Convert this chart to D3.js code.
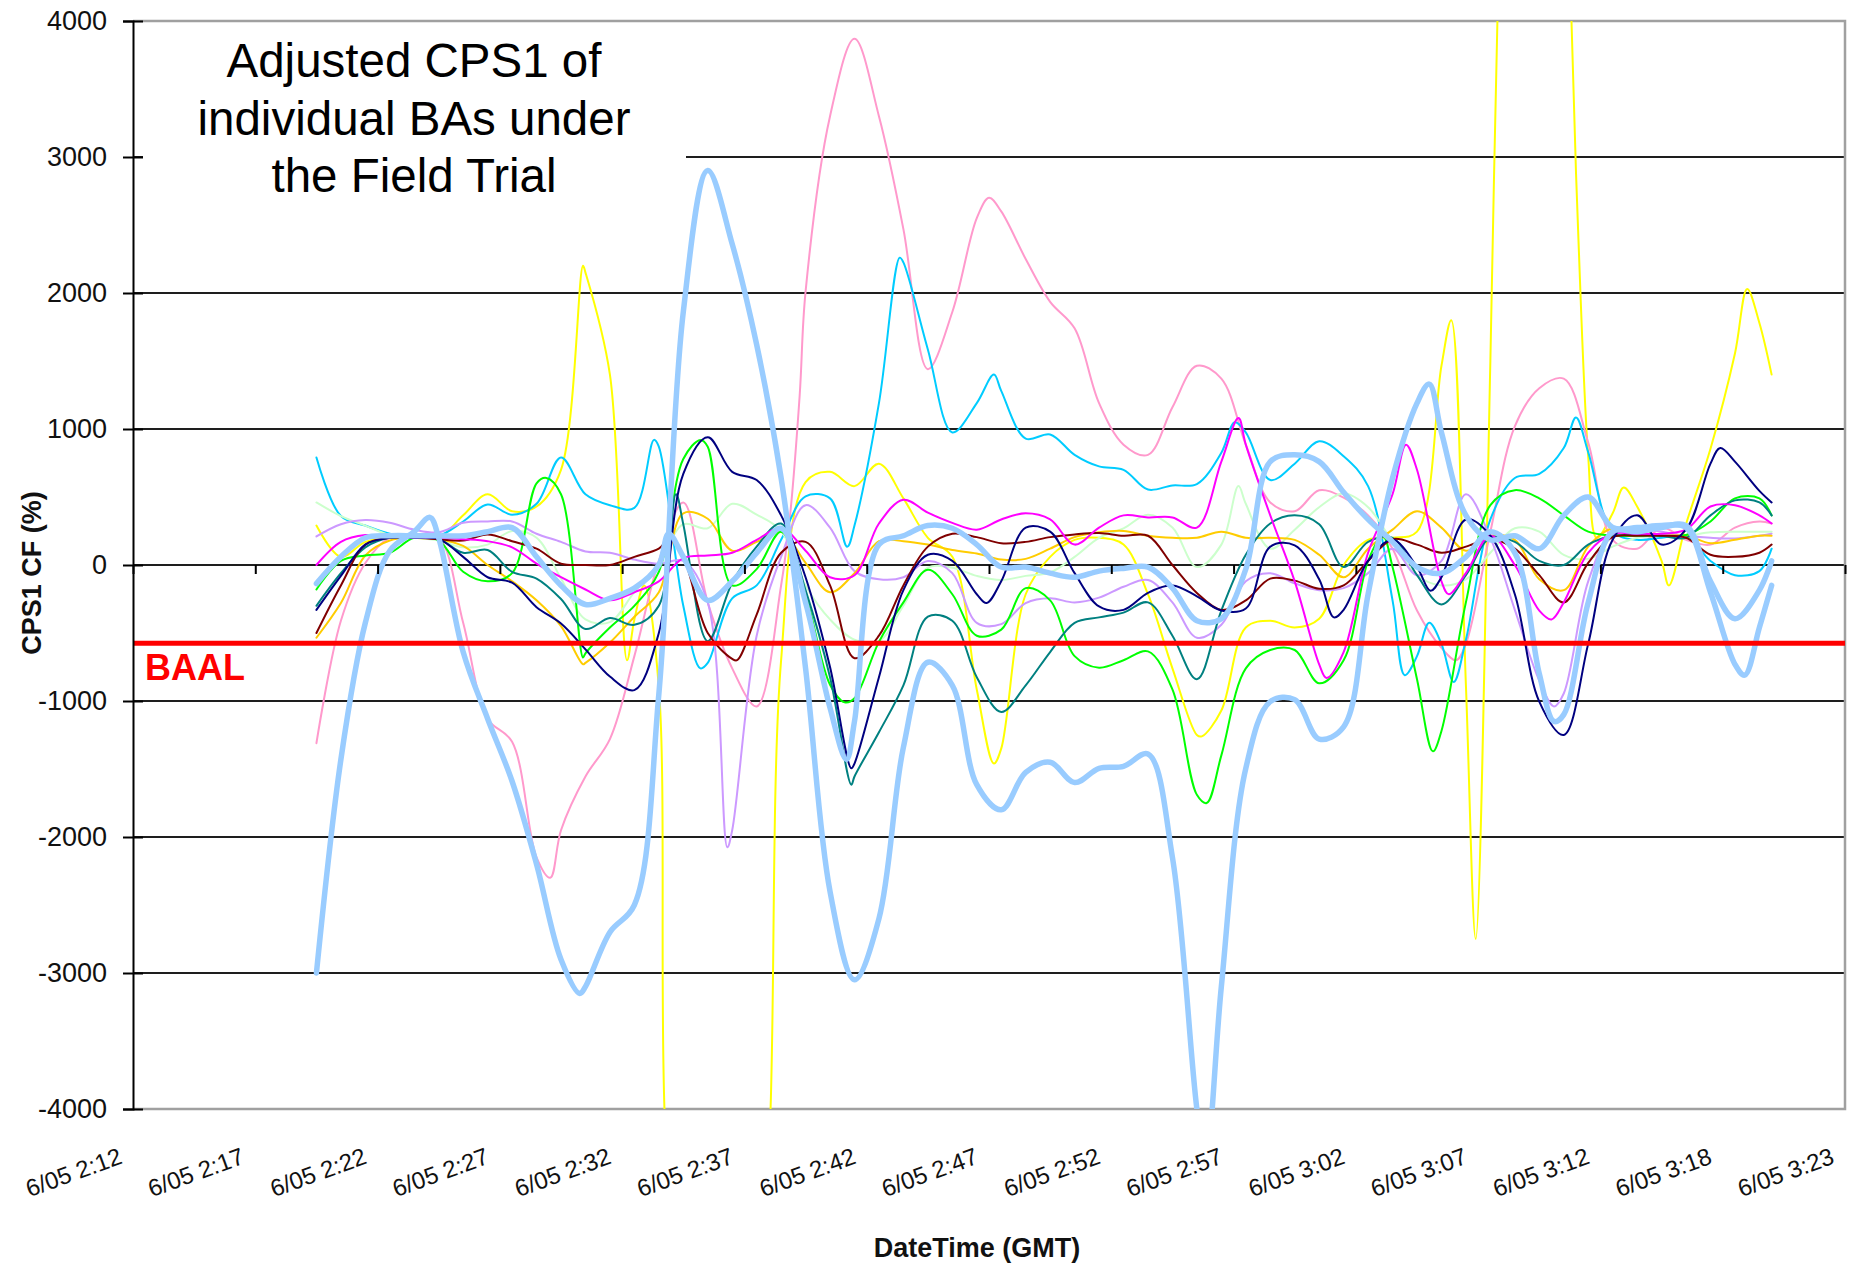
<!DOCTYPE html>
<html><head><meta charset="utf-8">
<script src="https://cdn.jsdelivr.net/npm/d3@7"></script>
<style>
html,body{margin:0;padding:0;background:#fff;}
svg{display:block;font-family:"Liberation Sans",Arial,Helvetica,sans-serif;}
</style></head>
<body><svg id="chart" width="1856" height="1269"></svg>
<script>
// ---------- DATA ----------
const xTickLabels = ["6/05 2:12","6/05 2:17","6/05 2:22","6/05 2:27","6/05 2:32","6/05 2:37","6/05 2:42","6/05 2:47","6/05 2:52","6/05 2:57","6/05 3:02","6/05 3:07","6/05 3:12","6/05 3:18","6/05 3:23"];
const xTickMinutes = [0,5,10,15,20,25,30,35,40,45,50,55,60,65,70];
const yTicks = [-4000,-3000,-2000,-1000,0,1000,2000,3000,4000];
const baal = -575;

// minutes after 2:12 at which each BA value is read
const minutes = [7.5,8.5,9.5,10.5,11.5,12.5,13.5,14.5,15.5,16.5,
 17.5,18.5,19.5,20.5,21.5,22.5,23.5,24.5,25.5,26.5,
 27.5,28.5,29.5,30.5,31.5,32.5,33.5,34.5,35.5,36.5,
 37.5,38.5,39.5,40.5,41.5,42.5,43.5,44.5,45.5,46.5,
 47.5,48.5,49.5,50.5,51.5,52.5,53.5,54.5,55.5,56.5,
 57.5,58.5,59.5,60.5,61.5,62.5,63.5,64.5,65.5,66.5,67];

const yellow = [290,60,170,200,200,200,365,520,395,430,
 700,2150,1400,-400,-900,-6000,-8000,-8000,-6000,-700,
 610,685,580,745,490,200,60,-915,-1350,-215,
 60,185,200,150,-215,-760,-1250,-1070,-460,-410,
 -460,-395,0,185,200,245,1465,-885,1500,8000,
 9000,7000,800,380,430,30,300,855,1555,1780,1400];
const yellowExtra = [[18.4,2200],[20.2,-700],[20.9,-150],[21.75,-4100],[26.05,-4100],[35.2,-1460],[43.7,-1260],[53.9,1800],[54.9,-2750],[55.8,4100],[58.8,4100],[59.1,2400],[59.85,200],[60.95,570],[62.8,-150],[66.0,2030]];

const pink = [-1310,-410,15,200,215,200,-425,-1130,-1300,-2150,
 -1950,-1555,-1280,-670,30,460,-275,-760,-1040,-150,
 2010,3300,3870,3300,2470,1440,1860,2550,2600,2250,
 1935,1740,1190,885,810,1160,1465,1370,885,460,
 395,550,495,365,120,-335,-610,-580,245,1020,
 1300,1370,900,185,120,275,185,150,275,320,305];
const pinkExtra = [[17.06,-2300],[26.85,335],[27.26,1250],[35.0,2700],[54.1,-700]];

const cyan = [790,360,290,230,215,215,320,445,370,450,
 790,520,440,420,870,-300,-720,-245,-150,185,
 505,490,290,1190,2225,1585,975,1190,1280,930,
 960,810,725,700,555,585,595,825,975,625,
 745,910,800,580,-260,-670,-580,-550,335,640,
 670,860,830,245,185,200,215,30,-75,-45,120];
const cyanExtra = [[21.3,920],[23.2,-760],[29.2,135],[31.35,2260],[35.2,1400],[45.05,1050],[52.0,-810],[53.0,-425],[54.0,-860],[59.0,1085]];

const lightGreen = [460,360,290,220,200,180,130,150,250,200,
 -100,-400,-420,-200,0,300,270,450,370,250,
 -150,-400,-550,-560,-300,-20,-20,-80,-110,-80,
 -55,60,200,270,370,275,-15,150,450,120,
 260,425,525,425,170,-75,-150,-105,90,270,
 245,75,45,135,200,215,215,240,245,245,245];
const lightGreenExtra = [[45.2,580]];

const lavender = [210,300,330,310,260,240,310,320,320,230,
 170,100,90,40,10,30,-275,-1950,-520,60,
 440,275,-45,-105,-90,30,-60,-425,-435,-280,
 -245,-275,-240,-160,-110,-275,-535,-440,-120,-60,
 -135,-185,-170,-60,120,-75,30,520,200,-330,
 -850,-945,-120,245,270,245,215,200,195,215,230];
const lavenderExtra = [[24.3,-2075],[58.1,-1040]];

const orange = [-535,-280,70,180,200,190,140,0,-120,-260,
 -450,-720,-570,-380,-200,380,340,105,170,245,
 15,-200,-60,175,175,150,110,85,40,45,
 120,205,240,250,215,200,200,245,200,200,
 185,75,-90,120,260,395,275,105,215,185,
 -105,-185,135,270,230,215,215,160,185,215,215];
const orangeExtra = [[18.4,-730]];

const green = [-180,30,70,90,200,180,-50,-120,-60,600,
 520,-650,-460,-300,-50,780,870,-150,-30,245,
 -215,-880,-980,-565,-275,-35,-215,-520,-475,-170,
 -260,-670,-755,-700,-635,-915,-1690,-1400,-760,-625,
 -625,-870,-700,30,-15,-840,-1220,-275,440,550,
 490,365,245,215,215,215,220,320,490,490,365];
const greenExtra = [[16.9,640],[18.4,-680],[23.2,920],[29.1,-1010],[43.9,-1750],[51.1,215],[53.15,-1370]];

const teal = [-300,-60,130,200,200,190,90,110,-50,-100,
 -250,-470,-390,-440,-300,300,-560,-130,135,305,
 -185,-825,-1555,-1230,-885,-380,-410,-825,-1080,-885,
 -640,-425,-385,-350,-275,-520,-840,-335,75,305,
 365,300,-15,170,200,-75,-290,-75,200,170,
 30,0,150,215,220,215,200,365,475,460,365];
const tealExtra = [[22.2,520],[29.37,-1615]];

const maroon = [-500,-150,150,200,200,190,180,225,175,120,
 10,0,0,60,120,60,-500,-690,-365,90,
 170,-150,-685,-520,-150,135,230,205,160,170,
 205,225,235,215,215,0,-205,-330,-260,-100,
 -115,-175,-150,30,190,150,90,135,190,120,
 -75,-275,15,205,215,215,200,75,60,90,150];
const maroonExtra = [[21.95,190],[24.7,-700]];

const magenta = [0,170,220,210,200,200,190,175,130,10,
 -90,-180,-260,-200,-120,50,70,90,185,270,
 105,-90,-75,305,480,385,310,260,335,380,
 335,150,275,365,350,350,275,760,885,365,
 -120,-730,-640,90,520,700,-120,-60,215,0,
 -335,-275,90,230,230,230,260,430,440,365,305];
const magentaExtra = [[45.2,1080],[48.8,-830],[52.05,885],[53.8,-215],[58.0,-400]];

const navy = [-330,-80,150,200,200,190,60,-90,-130,-310,
 -430,-620,-820,-920,-500,670,940,685,625,365,
 -90,-750,-1460,-825,-185,75,30,-215,-120,275,
 245,-60,-305,-330,-205,-150,-230,-335,-320,135,
 145,-105,-330,30,185,-15,-90,335,215,-215,
 -1005,-1250,-580,185,365,150,260,745,760,545,460];
const navyExtra = [[29.37,-1495],[34.9,-280],[49.1,-385],[53.05,-190],[64.9,860]];

const lightBlueA = [-137,60,200,215,215,215,215,245,275,60,
 -150,-290,-245,-170,0,60,-260,-120,90,270,
 -275,-1050,-1150,150,215,290,270,150,-15,-15,
 -60,-90,-45,-25,-15,-170,-410,-395,-30,760,
 810,760,535,335,170,-15,-60,60,245,90,
 -800,-1100,-275,245,245,275,290,-120,-395,-185,30];
const lightBlueAExtra = [[21.9,230],[29.17,-1430],[58.1,-1150]];

const lightBlueB = [-3000,-1430,-425,105,245,200,-640,-1130,-1590,-2200,
 -2900,-3100,-2700,-2500,-950,1860,2900,2360,1620,640,
 -760,-2400,-3050,-2600,-1340,-715,-885,-1615,-1800,-1525,
 -1450,-1600,-1495,-1480,-1390,-2150,-4000,-3100,-1495,-1005,
 -990,-1280,-1190,-215,640,1190,975,365,185,215,
 120,365,500,275,275,290,275,-200,-730,-460,-150];
const lightBlueBExtra = [[12.14,350],[18.27,-3150],[43.85,-4400],[53.0,1330],[65.9,-810]];

// ---------- STYLE ----------
const seriesList = [
  {values:yellow, extra:yellowExtra, color:"#FFFF00", w:2},
  {values:pink, extra:pinkExtra, color:"#FF99CC", w:2},
  {values:cyan, extra:cyanExtra, color:"#00CCFF", w:2},
  {values:lightGreen, extra:lightGreenExtra, color:"#CCFFCC", w:2},
  {values:lavender, extra:lavenderExtra, color:"#CC99FF", w:2},
  {values:orange, extra:orangeExtra, color:"#FFCC00", w:2},
  {values:green, extra:greenExtra, color:"#00FF00", w:2},
  {values:teal, extra:tealExtra, color:"#008080", w:2},
  {values:maroon, extra:maroonExtra, color:"#800000", w:2},
  {values:magenta, extra:magentaExtra, color:"#FF00FF", w:2},
  {values:navy, extra:navyExtra, color:"#000080", w:2},
  {values:lightBlueA, extra:lightBlueAExtra, color:"#99CCFF", w:5.5},
  {values:lightBlueB, extra:lightBlueBExtra, color:"#99CCFF", w:5.5}
];

// ---------- DRAW ----------
const svg = d3.select("#chart");
const L=133, R=1845, T=21, B=1109;
const x = d3.scaleLinear().domain([0,70]).range([L,R]);
const y = d3.scaleLinear().domain([-4000,4000]).range([B,T]);

svg.append("rect").attr("width",1856).attr("height",1269).attr("fill","#fff");

// gridlines
svg.append("g").selectAll("line").data(yTicks.filter(v=>v>-4000&&v<4000)).join("line")
  .attr("x1",L).attr("x2",R).attr("y1",d=>y(d)).attr("y2",d=>y(d))
  .attr("stroke","#1e1e1e").attr("stroke-width",2);
// plot border (top/right/bottom gray)
svg.append("path").attr("d",`M${L},${y(4000)}H${R}V${y(-4000)}H${L}`)
  .attr("fill","none").attr("stroke","#a0a0a0").attr("stroke-width",2.5);

// title box
svg.append("rect").attr("x",143).attr("y",28).attr("width",543).attr("height",180).attr("fill","#fff");

// series
svg.append("clipPath").attr("id","plotclip").append("rect")
  .attr("x",L).attr("y",T).attr("width",R-L).attr("height",B-T);
const line = d3.line().x(d=>x(d[0])).y(d=>y(d[1])).curve(d3.curveCatmullRom.alpha(0.5));
const gSeries = svg.append("g").attr("clip-path","url(#plotclip)");
seriesList.forEach(s=>{
  const pts = minutes.map((m,i)=>[m,s.values[i]]).concat(s.extra||[]);
  pts.sort((a,b)=>a[0]-b[0]);
  gSeries.append("path").datum(pts).attr("d",line)
    .attr("fill","none").attr("stroke",s.color).attr("stroke-width",s.w)
    .attr("stroke-linejoin","round").attr("stroke-linecap","round");
});

// BAAL line
svg.append("line").attr("x1",L).attr("x2",R).attr("y1",y(baal)).attr("y2",y(baal))
  .attr("stroke","#FF0000").attr("stroke-width",5);
svg.append("text").attr("x",145).attr("y",680).text("BAAL")
  .attr("fill","#FF0000").attr("font-weight","bold").attr("font-size",36);

// y axis
const yAxis = d3.axisLeft(y).tickValues(yTicks).tickSize(10).tickPadding(16).tickFormat(d=>String(d));
const gy = svg.append("g").attr("transform",`translate(${L},0)`).call(yAxis);
gy.select(".domain").attr("stroke","#000").attr("stroke-width",2);
gy.selectAll(".tick line").attr("stroke","#000").attr("stroke-width",2).attr("x2",10).attr("x1",-10);
gy.selectAll(".tick text").attr("font-size",27).attr("fill","#111").attr("font-family","'Liberation Sans',Arial,sans-serif");

// x axis ticks on zero line
const xAxis = d3.axisBottom(x).tickValues(xTickMinutes).tickSize(9).tickFormat("");
const gx = svg.append("g").attr("transform",`translate(0,${y(0)})`).call(xAxis);
gx.select(".domain").remove();
gx.selectAll(".tick line").attr("stroke","#000").attr("stroke-width",2);

// x tick labels
const xLab = d3.axisBottom(x).tickValues(xTickMinutes).tickSize(0).tickFormat((d,i)=>xTickLabels[i]);
const gxl = svg.append("g").attr("transform","translate(0,1140)").call(xLab);
gxl.select(".domain").remove();
gxl.selectAll(".tick text").attr("y",0).attr("dy",0).attr("x",0)
  .attr("transform","translate(-10,23) rotate(-20)").style("text-anchor","end")
  .attr("font-size",24).attr("fill","#111").attr("font-family","'Liberation Sans',Arial,sans-serif");

// axis titles
svg.append("text").attr("x",977).attr("y",1257).attr("text-anchor","middle")
  .attr("font-weight","bold").attr("font-size",27).attr("fill","#111").text("DateTime (GMT)");
svg.append("text").attr("transform","translate(41,573) rotate(-90)").attr("text-anchor","middle")
  .attr("font-weight","bold").attr("font-size",27).attr("fill","#111").text("CPS1 CF (%)");

// chart title
const titleLines = ["Adjusted CPS1 of","individual BAs under","the Field Trial"];
svg.append("g").selectAll("text").data(titleLines).join("text")
  .attr("x",414).attr("y",(d,i)=>77+i*57.5).attr("text-anchor","middle")
  .attr("font-size",47.5).attr("fill","#000").text(d=>d);
</script></body></html>
